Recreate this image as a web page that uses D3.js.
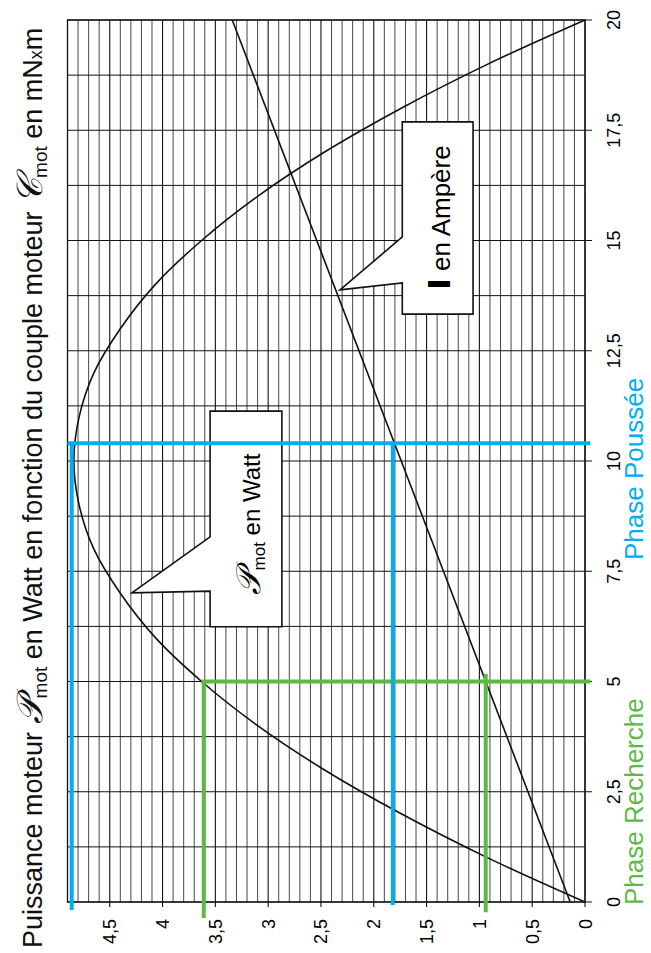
<!DOCTYPE html>
<html>
<head>
<meta charset="utf-8">
<script src="https://cdn.jsdelivr.net/npm/d3@7"></script>
<style>
body { margin: 0; background: #fff; }
text { font-family: "Liberation Sans", Arial, sans-serif; }
</style>
</head>
<body>
<svg id="chart" width="651" height="953"></svg>
<script>
// couple moteur (mN.m) -> puissance (W)
var couple = [0, 1, 2, 3, 4, 5, 6, 7, 8, 9, 10, 11, 12, 13, 14, 15, 16, 17, 18, 19, 20];
var puissance = [0, 0.92, 1.74, 2.47, 3.10, 3.63, 4.07, 4.40, 4.65, 4.79, 4.84, 4.79, 4.65, 4.40, 4.07, 3.63, 3.10, 2.47, 1.74, 0.92, 0];
// courant (A), droite
var coupleCourant = [0, 20];
var courant = [0.14, 3.34];

var coupleTicks = [0, 2.5, 5, 7.5, 10, 12.5, 15, 17.5, 20];
var coupleLabels = ['0', '2,5', '5', '7,5', '10', '12,5', '15', '17,5', '20'];
var valeurTicks = [0, 0.5, 1, 1.5, 2, 2.5, 3, 3.5, 4, 4.5];
var valeurLabels = ['0', '0,5', '1', '1,5', '2', '2,5', '3', '3,5', '4', '4,5'];

// phases de fonctionnement
var phaseNoms = ['Phase Recherche', 'Phase Poussée'];
var phaseCouple = [5, 10.4];
var phasePuissance = [3.61, 4.86];
var phaseCourant = [0.94, 1.82];
var phaseCouleurs = ['#5cb946', '#00aeef'];

var svg = d3.select('#chart');
var xLeft = 67.5, xRight = 585, yTop = 20, yBottom = 902;

// valeur (W ou A) horizontale, croissante vers la gauche ; couple vertical
var x = d3.scaleLinear().domain([0, 4.9]).range([xRight, xLeft]);
var y = d3.scaleLinear().domain([0, 20]).range([yBottom, yTop]);

// grille fine : 0,1 en valeur
var grid = svg.append('g');
var vLines = d3.range(0, 50).map(function (d) { return d / 10; });
grid.selectAll('.vl').data(vLines).enter().append('line')
    .attr('x1', function (d) { return x(d); })
    .attr('x2', function (d) { return x(d); })
    .attr('y1', y(20))
    .attr('y2', function (d) { return (d * 10) % 5 == 0 ? y(0) + 5 : y(0); })
    .attr('stroke', function (d) { return (d * 10) % 5 == 0 ? '#111' : '#333'; })
    .attr('stroke-width', function (d) { return (d * 10) % 5 == 0 ? 1.1 : 0.9; });

// grille couple : 1,25
var hLines = d3.range(0, 17).map(function (d) { return d * 1.25; });
grid.selectAll('.hl').data(hLines).enter().append('line')
    .attr('x1', x(4.9))
    .attr('x2', function (d) { return (d % 2.5 == 0) ? x(0) + 7 : x(0); })
    .attr('y1', function (d) { return y(d); })
    .attr('y2', function (d) { return y(d); })
    .attr('stroke', '#111')
    .attr('stroke-width', 1);

// cadre
svg.append('rect')
    .attr('x', x(4.9)).attr('y', y(20))
    .attr('width', x(0) - x(4.9)).attr('height', y(0) - y(20))
    .attr('fill', 'none').attr('stroke', '#111').attr('stroke-width', 1.3);

// courbes
var line = d3.line()
    .x(function (d) { return x(d[1]); })
    .y(function (d) { return y(d[0]); })
    .curve(d3.curveCatmullRom);

svg.append('path')
    .datum(couple.map(function (c, i) { return [c, puissance[i]]; }))
    .attr('d', line)
    .attr('fill', 'none').attr('stroke', '#111').attr('stroke-width', 1.6);

svg.append('path')
    .datum(coupleCourant.map(function (c, i) { return [c, courant[i]]; }))
    .attr('d', d3.line().x(function (d) { return x(d[1]); }).y(function (d) { return y(d[0]); }))
    .attr('fill', 'none').attr('stroke', '#111').attr('stroke-width', 1.6);

// bulles
var bulleP = [[3.55, 11.13], [2.87, 11.13], [2.87, 6.24], [3.55, 6.24], [3.55, 7.05], [4.29, 7.01], [3.55, 8.28]];
var bulleI = [[1.73, 17.69], [1.06, 17.69], [1.06, 13.33], [1.73, 13.33], [1.73, 14.04], [2.32, 13.88], [1.73, 15.08]];
[bulleP, bulleI].forEach(function (b) {
    svg.append('path')
        .attr('d', d3.line().x(function (d) { return x(d[0]); }).y(function (d) { return y(d[1]); })(b) + 'Z')
        .attr('fill', '#fff').attr('stroke', '#111').attr('stroke-width', 1.6);
});

function rotText(px, py) {
    return svg.append('text').attr('transform', 'translate(' + px + ',' + py + ') rotate(-90)');
}

var tP = rotText(x(3.08), y(8.56)).attr('text-anchor', 'middle').attr('font-size', 24);
tP.append('tspan').attr('font-family', 'DejaVu Serif').attr('font-style', 'italic').attr('font-size', 34).text('𝒫');
tP.append('tspan').attr('font-size', 17).attr('dy', 5).text('mot');
tP.append('tspan').attr('dy', -5).text(' en Watt');

var tI = rotText(x(1.28), y(15.52)).attr('text-anchor', 'middle').attr('font-size', 26);
tI.append('tspan').attr('font-family', 'DejaVu Sans').attr('font-weight', 900).attr('font-size', 31).text('I');
tI.append('tspan').text(' en Ampère');

// lignes des phases
var phases = svg.append('g');
phaseCouple.forEach(function (c, i) {
    var col = phaseCouleurs[i];
    var left = i == 0 ? phasePuissance[i] + 0.02 : 4.9;
    phases.append('line')
        .attr('x1', x(left)).attr('x2', x(-0.05))
        .attr('y1', y(c)).attr('y2', y(c))
        .attr('stroke', col).attr('stroke-width', 4);
    phases.append('line')
        .attr('x1', x(phasePuissance[i])).attr('x2', x(phasePuissance[i]))
        .attr('y1', y(c)).attr('y2', y(i == 0 ? -0.36 : -0.18))
        .attr('stroke', col).attr('stroke-width', 4);
    phases.append('line')
        .attr('x1', x(phaseCourant[i])).attr('x2', x(phaseCourant[i]))
        .attr('y1', y(i == 0 ? c + 0.17 : c)).attr('y2', y(i == 0 ? -0.23 : -0.07))
        .attr('stroke', col).attr('stroke-width', 4);
});

// graduations couple
coupleTicks.forEach(function (t, i) {
    rotText(620, y(t)).attr('text-anchor', 'middle').attr('font-size', 18).text(coupleLabels[i]);
});
// graduations valeur
valeurTicks.forEach(function (t, i) {
    rotText(x(t) + 6.5, 919).attr('text-anchor', 'end').attr('font-size', 18).text(valeurLabels[i]);
});

// noms des phases
var phaseDebut = [905, 560];
phaseNoms.forEach(function (n, i) {
    rotText(643, phaseDebut[i]).attr('font-family', 'Lato').attr('font-size', 26)
        .attr('fill', phaseCouleurs[i]).text(n);
});

// titre
var title = rotText(42, 948).attr('font-size', 27).attr('fill', '#111');
title.append('tspan').text('Puissance moteur ');
title.append('tspan').attr('font-family', 'DejaVu Serif').attr('font-style', 'italic').attr('font-size', 36).text('𝒫');
title.append('tspan').attr('font-size', 19).attr('dy', 5).text('mot');
title.append('tspan').attr('dy', -5).text(' en Watt en fonction du couple moteur ');
title.append('tspan').attr('font-family', 'DejaVu Serif').attr('font-style', 'italic').attr('font-size', 36).text('𝒞');
title.append('tspan').attr('font-size', 19).attr('dy', 5).text('mot');
title.append('tspan').attr('dy', -5).text(' en mN');
title.append('tspan').attr('font-size', 18).text('x');
title.append('tspan').text('m');
</script>
</body>
</html>
